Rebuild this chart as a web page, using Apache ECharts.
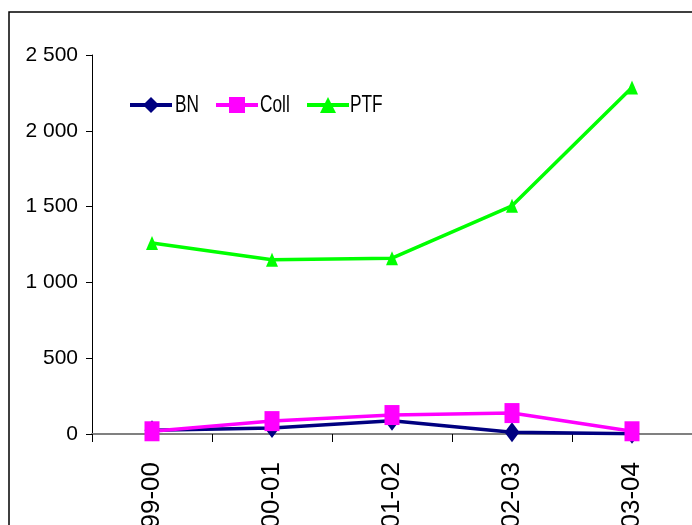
<!DOCTYPE html>
<html>
<head>
<meta charset="utf-8">
<script src="https://cdn.jsdelivr.net/npm/echarts@6/dist/echarts.min.js"></script>
<style>
html,body{margin:0;padding:0;background:#fff;}
#c{width:692px;height:525px;}
</style>
</head>
<body>
<div id="c"></div>
<script>
const categories = ["1999-00", "2000-01", "2001-02", "2002-03", "2003-04"];
const seriesNames = ["BN", "Coll", "PTF"];
const bnValues = [25, 40, 88, 12, 2];
const collValues = [18, 85, 125, 138, 18];
const ptfValues = [1260, 1150, 1160, 1505, 2285];
const yTicks = [0, 500, 1000, 1500, 2000, 2500];

const FONT = "'Liberation Sans', Arial, sans-serif";
const chart = echarts.init(document.getElementById('c'), null, {renderer: 'canvas'});

function fmt(v) {
  return String(v).replace(/\B(?=(\d{3})+(?!\d))/g, ' ');
}

const legendLeft = [128, 214, 305];
const legendTextX = [175, 260, 350];

function legendFor(i) {
  return {
    data: [seriesNames[i]],
    left: legendLeft[i],
    top: 95,
    padding: 0,
    itemWidth: 42,
    itemHeight: 20,
    itemGap: 0,
    lineStyle: {width: 4},
    formatter: function () { return ''; },
    textStyle: {fontFamily: FONT, fontSize: 1, color: '#000'}
  };
}

function legendText(i) {
  return {
    type: 'text',
    x: legendTextX[i],
    y: 105,
    scaleX: 0.72,
    style: {
      text: seriesNames[i],
      x: 0, y: 0,
      fill: '#000',
      font: '24px ' + FONT,
      verticalAlign: 'middle',
      align: 'left'
    }
  };
}

chart.setOption({
  animation: false,
  backgroundColor: '#fff',
  graphic: [{
    type: 'rect',
    z: -10,
    shape: {x: 9, y: 12, width: 720, height: 600},
    style: {fill: 'none', stroke: '#000', lineWidth: 1.5}
  }, legendText(0), legendText(1), legendText(2)],
  legend: [legendFor(0), legendFor(1), legendFor(2)],
  grid: {left: 92, top: 55, right: 0, bottom: 91, outerBoundsMode: 'none', containLabel: false},
  xAxis: {
    type: 'category',
    data: categories,
    boundaryGap: true,
    axisLine: {show: true, lineStyle: {color: '#808080', width: 2}},
    axisTick: {show: true, length: 8, lineStyle: {color: '#000', width: 1}},
    axisLabel: {rotate: 90, margin: 28, fontFamily: FONT, fontSize: 26, color: '#000'}
  },
  yAxis: {
    type: 'value',
    min: yTicks[0],
    max: yTicks[yTicks.length - 1],
    interval: 500,
    axisLine: {show: true, lineStyle: {color: '#000', width: 1}},
    axisTick: {show: true, length: 6, lineStyle: {color: '#000'}},
    splitLine: {show: false},
    axisLabel: {margin: 14, fontFamily: FONT, fontSize: 21, color: '#000', formatter: fmt}
  },
  series: [
    {
      name: 'BN', type: 'line', data: bnValues,
      symbol: 'diamond', symbolSize: [15, 20],
      lineStyle: {color: '#000080', width: 3.5},
      itemStyle: {color: '#000080'}
    },
    {
      name: 'Coll', type: 'line', data: collValues,
      symbol: 'rect', symbolSize: [15, 20],
      lineStyle: {color: '#FF00FF', width: 3.5},
      itemStyle: {color: '#FF00FF'}
    },
    {
      name: 'PTF', type: 'line', data: ptfValues,
      symbol: 'triangle', symbolSize: [12, 14],
      lineStyle: {color: '#00FF00', width: 3.5},
      itemStyle: {color: '#00FF00'}
    }
  ]
});
</script>
</body>
</html>
